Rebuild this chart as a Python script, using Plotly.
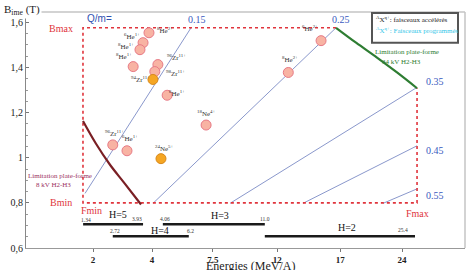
import plotly.graph_objects as go

# ---------------- data ----------------
# x axis: positions along the (non-linear) energy axis; ticks labelled with energies
tick_pos = [0.0, 0.955, 1.94, 2.98, 4.0, 5.0]
tick_lab = ["2", "4", "7.5", "12", "17", "24"]
y_ticks = [0.6, 0.8, 1.0, 1.2, 1.4, 1.6]
y_tick_lab = ["0,6", "0,8", "1", "1,2", "1,4", "1,6"]

# accelerated beams (pink) and programmed (orange)
pink_x = [0.906, 0.81, 0.76, 0.65, 1.05, 1.0, 1.2, 3.16, 3.69, 1.83, 0.32, 0.55]
pink_y = [1.554, 1.51, 1.479, 1.404, 1.413, 1.382, 1.277, 1.378, 1.519, 1.145, 1.057, 1.031]
pink_lab = ["<sup>8</sup>He<sup>2+</sup>", "<sup>6</sup>He<sup>1+</sup>", "<sup>8</sup>He<sup>1+</sup>",
            "<sup>8</sup>He<sup>1+</sup>", "<sup>96</sup>Zr<sup>11+</sup>", "<sup>98</sup>Zr<sup>11+</sup>",
            "<sup>6</sup>He<sup>1+</sup>", "<sup>8</sup>He<sup>2+</sup>", "<sup>6</sup>He<sup>2+</sup>",
            "<sup>18</sup>Ne<sup>4+</sup>", "<sup>96</sup>Zr<sup>11+</sup>", "<sup>6</sup>He<sup>1+</sup>"]
orange_x = [0.97, 1.10]
orange_y = [1.347, 0.996]
orange_lab = ["<sup>94</sup>Zr<sup>11+</sup>", "<sup>24</sup>Ne<sup>5+</sup>"]

# Q/m iso-lines (start, end)
qm_vals = ["0.15", "0.25", "0.35", "0.45", "0.55"]
qm_x = [[1.586, -0.129], [3.932, 0.971], [5.243, 2.217], [5.243, 3.398], [5.259, 4.693]]
qm_y = [[1.576, 0.842], [1.576, 0.798], [1.312, 0.798], [1.053, 0.798], [0.864, 0.798]]

# operating limits
f_min, f_max = -0.162, 5.243
b_min, b_max = 0.80, 1.576
green_x = [3.932, 4.256, 4.595, 4.919, 5.243]      # 34 kV platform limit
green_y = [1.576, 1.510, 1.444, 1.378, 1.308]
dred_x = [-0.162, 0.049, 0.275, 0.502, 0.777]     # 8 kV platform limit
dred_y = [1.163, 1.062, 0.969, 0.890, 0.793]

# harmonic ranges
h_names = ["H=5", "H=4", "H=3", "H=2"]
h_start = [-0.16, 0.32, 1.13, 2.78]
h_end = [0.81, 1.55, 2.78, 5.21]
h_level = [0.705, 0.652, 0.705, 0.652]
h_lo_lab = ["1.34", "2.72", "4.06", ""]
h_hi_lab = ["3.93", "6.2", "11.0", "25.4"]

# ---------------- figure ----------------
W, H = 470, 270
L, R, T, B = 26, 5, 12, 20
pw, ph = W - L - R, H - T - B
SERIF = "Liberation Serif, Times New Roman, serif"


def P(px, py):
    return (px - L) / pw, (H - B - py) / ph


fig = go.Figure()

for xs, ys in zip(qm_x, qm_y):
    fig.add_trace(go.Scatter(x=xs, y=ys, mode="lines",
                             line=dict(color="#8a98cc", width=1), hoverinfo="skip"))

red = "#e0343c"
fig.add_trace(go.Scatter(x=[green_x[0], f_min, f_min, f_max, f_max], y=[b_max, b_max, b_min, b_min, green_y[-1]],
                         mode="lines", line=dict(color=red, width=1.6, dash="dot"), hoverinfo="skip"))
fig.add_trace(go.Scatter(x=green_x, y=green_y, mode="lines", line=dict(color="#2e7d32", width=2.2, shape="spline"),
                         hoverinfo="skip"))
fig.add_trace(go.Scatter(x=dred_x, y=dred_y, mode="lines", line=dict(color="#7a1f24", width=2.2, shape="spline"),
                         hoverinfo="skip"))

for xs0, xs1, lv in zip(h_start, h_end, h_level):
    fig.add_trace(go.Scatter(x=[xs0, xs1], y=[lv, lv], mode="lines",
                             line=dict(color="#1a1a1a", width=2.6), hoverinfo="skip"))

fig.add_trace(go.Scatter(x=pink_x, y=pink_y, mode="markers",
                         marker=dict(size=10, color="#f8b3a3", line=dict(color="#e77a86", width=1))))
fig.add_trace(go.Scatter(x=orange_x, y=orange_y, mode="markers",
                         marker=dict(size=10, color="#f5a623", line=dict(color="#d8891c", width=1))))

ann = []
pink_off = [(16, 2), (-11, 6), (-14, 3), (-9, 10), (19, 7), (21, -2), (10, 2), (2, 13), (-11, 12),
            (0, 12), (2, 11), (3, 12)]
for x, y, t, (dx, dy) in zip(pink_x, pink_y, pink_lab, pink_off):
    ann.append(dict(x=x, y=y, xref="x", yref="y", text=t, showarrow=False, xshift=dx, yshift=dy,
                    font=dict(family=SERIF, size=7, color="#333")))
orange_off = [(-12, 0), (4, 10)]
for x, y, t, (dx, dy) in zip(orange_x, orange_y, orange_lab, orange_off):
    ann.append(dict(x=x, y=y, xref="x", yref="y", text=t, showarrow=False, xshift=dx, yshift=dy,
                    font=dict(family=SERIF, size=7, color="#333")))


def txt(px, py, s, size, color, family=SERIF, xanchor="center", bg=None):
    xp, yp = P(px, py)
    d = dict(x=xp, y=yp, xref="paper", yref="paper", text=s, showarrow=False, xanchor=xanchor,
             yanchor="middle", font=dict(family=family, size=size, color=color))
    if bg:
        d["bgcolor"] = bg
    ann.append(d)


blue = "#3a5bc0"
txt(99, 19, "Q/m=", 10, "#3050b0", family="Liberation Sans, Arial, sans-serif")
for (px, py), s in zip([(197, 20), (341, 20), (435, 82), (435, 152), (435, 197)], qm_vals):
    txt(px, py, s, 10, blue)
txt(61, 29, "Bmax", 10, red)
txt(61, 204, "Bmin", 10, red)
txt(91, 212, "Fmin", 10, red)
txt(417, 215, "Fmax", 10, red)
txt(407, 52, "Limitation plate-forme", 7, "#2e7d32")
txt(401, 62, "34 kV H2-H3", 7, "#2e7d32")
txt(60, 177, "Limitation plate-forme", 7, "#9b3060")
txt(53, 186, "8 kV H2-H3", 7, "#9b3060")

# harmonic labels
for (px, py), s in zip([(118, 216), (160, 232), (220, 217), (347, 229)], h_names):
    txt(px, py, s, 10, "#111")
for (px, py), s in zip([(86, 222), (115, 233), (165, 221), (0, 0)], h_lo_lab):
    if s:
        txt(px, py, s, 5.5, "#333")
for (px, py), s in zip([(137, 221), (190, 233), (265, 221), (403, 232)], h_hi_lab):
    txt(px, py, s, 5.5, "#333")

# legend box text
txt(374, 20, "<sup>A</sup>X<sup>q+</sup>: faisceaux accélérés", 7, "#222", xanchor="left")
txt(374, 31, "<sup>A</sup>X<sup>q+</sup>: Faisceaux programmés", 7, "#33c6e8", xanchor="left")

# axis labels
txt(2, 10, "B<sub>ime</sub> (T)", 11, "#222", xanchor="left", bg="white")
txt(250, 268, "Energies (MeV/A)", 12, "#222")

shapes = []
shapes.append(dict(type="line", xref="paper", yref="paper", x0=0, x1=1, y0=1, y1=1,
                   line=dict(color="#c4c4c4", width=1.5), layer="below"))
shapes.append(dict(type="line", xref="paper", yref="paper", x0=1, x1=1, y0=0, y1=1,
                   line=dict(color="#c4c4c4", width=1.5), layer="below"))
bx0, by0 = P(372, 13)
bx1, by1 = P(458, 43)
shapes.append(dict(type="rect", xref="paper", yref="paper", x0=bx0, x1=bx1, y0=by1, y1=by0,
                   line=dict(color="#555", width=2), fillcolor="white"))

fig.update_layout(
    width=W, height=H, margin=dict(l=L, r=R, t=T, b=B),
    paper_bgcolor="white", plot_bgcolor="white", showlegend=False,
    annotations=ann, shapes=shapes,
    xaxis=dict(range=[-1.084, 6.019], tickvals=tick_pos, ticktext=["<b>%s</b>" % t for t in tick_lab],
               ticks="outside", ticklen=3, tickcolor="#777", showgrid=False, zeroline=False,
               showline=True, linecolor="#999", linewidth=1.2, ticklabelstandoff=0,
               tickfont=dict(family=SERIF, size=9, color="#222")),
    yaxis=dict(range=[0.6, 1.646], tickvals=y_ticks, ticktext=y_tick_lab,
               ticks="inside", ticklen=3, tickcolor="#777", showgrid=False, zeroline=False,
               showline=True, linecolor="#888", linewidth=1.2,
               minor=dict(dtick=0.05, ticks="inside", ticklen=2, tickcolor="#999"),
               tickfont=dict(family=SERIF, size=10, color="#222")),
)

fig.write_html("out.html")
